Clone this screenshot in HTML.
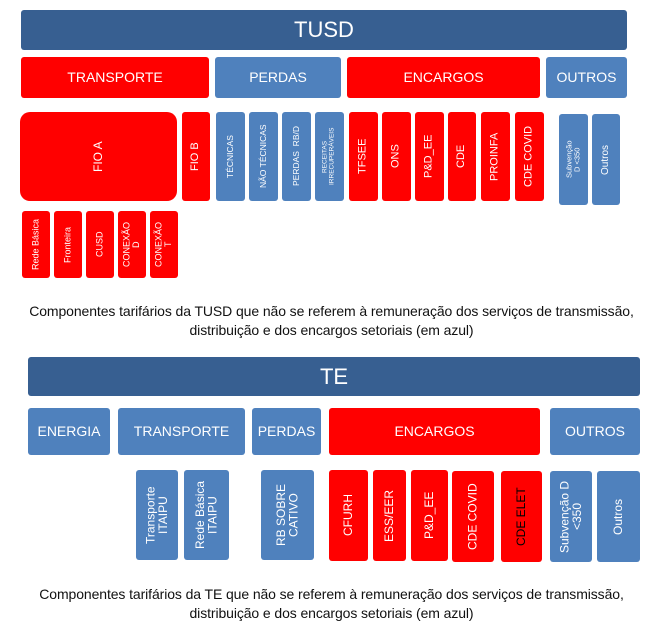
<!DOCTYPE html>
<html><head><meta charset="utf-8"><style>
body{margin:0;width:663px;height:638px;background:#fff;position:relative;overflow:hidden;font-family:"Liberation Sans",sans-serif}
.b{position:absolute;display:flex;align-items:center;justify-content:center;text-align:center;color:#fff;box-sizing:border-box;border-radius:3px;line-height:1.05}
.r{background:#ff0000}.u{background:#4f81bd}.d{background:#375f91;border-radius:3px}
.v{writing-mode:vertical-rl;transform:rotate(180deg)}
.cap{position:absolute;left:0;width:663px;text-align:center;font-size:14px;color:#111;line-height:19px;letter-spacing:-0.1px}
</style></head><body>
<div class="b d" style="left:21px;top:10px;width:606px;height:40px;font-size:22px">TUSD</div>
<div class="b r" style="left:21px;top:57px;width:188px;height:41px;font-size:14px">TRANSPORTE</div>
<div class="b u" style="left:215px;top:57px;width:126px;height:41px;font-size:14px">PERDAS</div>
<div class="b r" style="left:347px;top:57px;width:193px;height:41px;font-size:14px">ENCARGOS</div>
<div class="b u" style="left:546px;top:57px;width:81px;height:41px;font-size:14px">OUTROS</div>

<div class="b r v" style="left:20px;top:112px;width:157px;height:89px;border-radius:10px;font-size:12px">FIO A</div>
<div class="b r v" style="left:182px;top:112px;width:28px;height:89px;font-size:11px">FIO B</div>
<div class="b u v" style="left:216px;top:112px;width:29px;height:89px;font-size:8.5px">TÉCNICAS</div>
<div class="b u v" style="left:249px;top:112px;width:29px;height:89px;font-size:8.5px">NÃO TÉCNICAS</div>
<div class="b u v" style="left:282px;top:112px;width:29px;height:89px;font-size:8.5px">PERDAS&nbsp; RB/D</div>
<div class="b u v" style="left:315px;top:112px;width:29px;height:89px;font-size:6.5px">RECEITAS<br>IRRECUPERÁVEIS</div>
<div class="b r v" style="left:349px;top:112px;width:29px;height:89px;font-size:11px">TFSEE</div>
<div class="b r v" style="left:382px;top:112px;width:29px;height:89px;font-size:11px">ONS</div>
<div class="b r v" style="left:415px;top:112px;width:29px;height:89px;font-size:11px">P&amp;D_EE</div>
<div class="b r v" style="left:448px;top:112px;width:28px;height:89px;font-size:11px">CDE</div>
<div class="b r v" style="left:481px;top:112px;width:29px;height:89px;font-size:11px">PROINFA</div>
<div class="b r v" style="left:515px;top:112px;width:29px;height:89px;font-size:11px">CDE COVID</div>
<div class="b u v" style="left:559px;top:114px;width:29px;height:91px;font-size:7.5px">Subvenção<br>D &lt;350</div>
<div class="b u v" style="left:592px;top:114px;width:28px;height:91px;font-size:10px">Outros</div>

<div class="b r v" style="left:22px;top:211px;width:28px;height:67px;font-size:9px">Rede Básica</div>
<div class="b r v" style="left:54px;top:211px;width:28px;height:67px;font-size:9px">Fronteira</div>
<div class="b r v" style="left:86px;top:211px;width:28px;height:67px;font-size:9px">CUSD</div>
<div class="b r v" style="left:118px;top:211px;width:28px;height:67px;font-size:9px">CONEXÃO<br>D</div>
<div class="b r v" style="left:150px;top:211px;width:28px;height:67px;font-size:9px">CONEXÃO<br>T</div>

<div class="cap" style="top:302px">Componentes tarifários da TUSD que não se referem à remuneração dos serviços de transmissão,<br>distribuição e dos encargos setoriais (em azul)</div>

<div class="b d" style="left:28px;top:357px;width:612px;height:39px;font-size:22px">TE</div>
<div class="b u" style="left:28px;top:408px;width:82px;height:47px;font-size:14px">ENERGIA</div>
<div class="b u" style="left:118px;top:408px;width:127px;height:47px;font-size:14px">TRANSPORTE</div>
<div class="b u" style="left:252px;top:408px;width:69px;height:47px;font-size:14px">PERDAS</div>
<div class="b r" style="left:329px;top:408px;width:211px;height:47px;font-size:14px">ENCARGOS</div>
<div class="b u" style="left:550px;top:408px;width:90px;height:47px;font-size:14px">OUTROS</div>

<div class="b u v" style="left:136px;top:470px;width:42px;height:90px;font-size:12px">Transporte<br>ITAIPU</div>
<div class="b u v" style="left:184px;top:470px;width:45px;height:90px;font-size:12px">Rede Básica<br>ITAIPU</div>
<div class="b u v" style="left:261px;top:470px;width:53px;height:90px;font-size:12px">RB SOBRE<br>CATIVO</div>
<div class="b r v" style="left:329px;top:470px;width:39px;height:91px;font-size:12px">CFURH</div>
<div class="b r v" style="left:373px;top:470px;width:33px;height:91px;font-size:12px">ESS/EER</div>
<div class="b r v" style="left:411px;top:470px;width:37px;height:91px;font-size:12px">P&amp;D_EE</div>
<div class="b r v" style="left:452px;top:471px;width:42px;height:91px;font-size:12px">CDE COVID</div>
<div class="b r v" style="left:501px;top:471px;width:41px;height:91px;font-size:12px;color:#000">CDE ELET</div>
<div class="b u v" style="left:550px;top:471px;width:42px;height:91px;font-size:12px">Subvenção D<br>&lt;350</div>
<div class="b u v" style="left:597px;top:471px;width:43px;height:91px;font-size:12px">Outros</div>

<div class="cap" style="top:585px">Componentes tarifários da TE que não se referem à remuneração dos serviços de transmissão,<br>distribuição e dos encargos setoriais (em azul)</div>
</body></html>
